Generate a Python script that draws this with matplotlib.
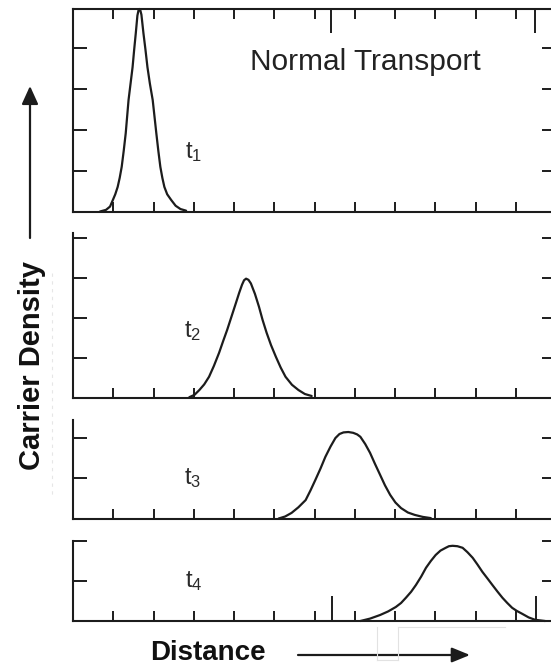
import matplotlib
matplotlib.use("Agg")
import matplotlib.pyplot as plt
from matplotlib.patches import FancyArrowPatch
from matplotlib.lines import Line2D

plt.rcParams['font.family'] = ['Liberation Sans', 'DejaVu Sans']
plt.rcParams['mathtext.default'] = 'regular'

# ---------------- data ----------------
title_text = "Normal Transport"
xlabel_text = "Distance"
ylabel_text = "Carrier Density"
time_labels = ["t_1", "t_2", "t_3", "t_4"]

x_t1 = [0.67, 0.82, 0.92, 0.99, 1.05, 1.11, 1.16, 1.21, 1.26, 1.31, 1.38, 1.43,
        1.48, 1.52, 1.56, 1.60, 1.63, 1.65, 1.67, 1.70, 1.75, 1.80, 1.85, 1.91,
        1.98, 2.07, 2.12, 2.17, 2.22, 2.27, 2.34, 2.44, 2.55, 2.67, 2.81]
y_t1 = [0.00, 0.04, 0.12, 0.28, 0.42, 0.60, 0.82, 1.09, 1.48, 1.91, 2.72, 3.12,
        3.52, 3.95, 4.35, 4.78, 4.92, 4.94, 4.92, 4.80, 4.35, 3.95, 3.52, 3.12,
        2.72, 1.91, 1.48, 1.09, 0.82, 0.60, 0.42, 0.28, 0.14, 0.06, 0.02]

x_t2 = [2.89, 3.02, 3.14, 3.26, 3.38, 3.50, 3.63, 3.73, 3.83, 3.94, 4.05, 4.13,
        4.20, 4.25, 4.30, 4.36, 4.42, 4.52, 4.62, 4.71, 4.81, 4.92, 5.04, 5.16,
        5.28, 5.44, 5.60, 5.76, 5.93]
y_t2 = [0.02, 0.08, 0.20, 0.34, 0.53, 0.80, 1.13, 1.42, 1.70, 2.04, 2.38, 2.63,
        2.83, 2.94, 2.98, 2.95, 2.86, 2.60, 2.28, 1.95, 1.63, 1.32, 1.03, 0.76,
        0.53, 0.33, 0.20, 0.10, 0.05]

x_t3 = [5.11, 5.27, 5.43, 5.60, 5.78, 5.90, 6.02, 6.15, 6.27, 6.40, 6.52, 6.62,
        6.72, 6.84, 6.96, 7.06, 7.14, 7.26, 7.38, 7.50, 7.63, 7.75, 7.88, 8.01,
        8.15, 8.32, 8.49, 8.69, 8.89]
y_t3 = [0.00, 0.05, 0.14, 0.28, 0.46, 0.70, 0.96, 1.25, 1.54, 1.80, 2.01, 2.11,
        2.15, 2.16, 2.14, 2.10, 2.04, 1.86, 1.64, 1.37, 1.09, 0.83, 0.59, 0.40,
        0.26, 0.15, 0.09, 0.04, 0.01]

x_t4 = [7.14, 7.38, 7.63, 7.83, 8.02, 8.15, 8.27, 8.40, 8.52, 8.65, 8.77, 8.89,
        9.01, 9.13, 9.26, 9.34, 9.43, 9.55, 9.68, 9.80, 9.93, 10.05, 10.17, 10.30,
        10.42, 10.55, 10.67, 10.79, 10.91, 11.03, 11.16, 11.32, 11.48, 11.73]
y_t4 = [0.00, 0.06, 0.15, 0.24, 0.35, 0.45, 0.58, 0.73, 0.90, 1.11, 1.33, 1.50,
        1.65, 1.76, 1.83, 1.87, 1.88, 1.87, 1.83, 1.72, 1.58, 1.41, 1.23, 1.06,
        0.90, 0.73, 0.58, 0.45, 0.33, 0.25, 0.18, 0.09, 0.03, 0.00]

x_ticks = [1, 2, 3, 4, 5, 6, 7, 8, 9, 10, 11, 12]
long_ticks_top = [6.40, 11.48]
long_ticks_bottom = [6.44, 11.50]
y_ticks_1 = [1, 2, 3, 4]
y_ticks_2 = [1, 2, 3, 4]
y_ticks_3 = [1, 2]
y_ticks_4 = [1, 2]
y_top = [4.94, 4.12, 2.46, 2.0]

# ---------------- layout ----------------
W, H = 551, 666
fig = plt.figure(figsize=(W / 100, H / 100), dpi=100)
ink = '#1c1c1c'

left_px, right_px = 73, 556
panels_px = [(9, 211.5), (233, 398), (420, 518.5), (541, 621)]

series = [(x_t1, y_t1), (x_t2, y_t2), (x_t3, y_t3), (x_t4, y_t4)]
yticks_all = [y_ticks_1, y_ticks_2, y_ticks_3, y_ticks_4]
for i, (top, bot) in enumerate(panels_px):
    ax = fig.add_axes([left_px / W, 1 - bot / H, (right_px - left_px) / W, (bot - top) / H])
    ax.set_xlim(0, (right_px - left_px) / 40.5)
    ax.set_ylim(0, y_top[i])
    xs, ys = series[i]
    ax.plot(xs, ys, color=ink, lw=1.6, solid_joinstyle='round', solid_capstyle='round',
            clip_on=False)
    ax.set_xticks(x_ticks)
    ax.set_yticks(yticks_all[i])
    ax.set_xticklabels([])
    ax.set_yticklabels([])
    for s in ax.spines.values():
        s.set_color(ink)
        s.set_linewidth(1.5)
    if i > 0:
        ax.spines['top'].set_visible(False)
    ax.tick_params(axis='x', which='major', direction='in', length=7.5, width=1.4,
                   color=ink, top=(i == 0), bottom=True)
    ax.tick_params(axis='y', which='major', direction='in', length=10, width=1.4,
                   color=ink, left=True, right=True)
    if i == 0:
        ax.set_xticks(long_ticks_top, minor=True)
        ax.tick_params(axis='x', which='minor', direction='in', length=17, width=1.4,
                       color=ink, top=True, bottom=False)
    if i == 3:
        ax.set_xticks(long_ticks_bottom, minor=True)
        ax.tick_params(axis='x', which='minor', direction='in', length=18, width=1.4,
                       color=ink, top=False, bottom=True)
    ax.patch.set_alpha(0)

# time labels
t_pos = [(185, 158), (184, 337), (184, 484), (185, 587)]
for lab, (px, py) in zip(time_labels, t_pos):
    fig.text(px / W, 1 - py / H, "$" + lab + "$", fontsize=17, color='#2a2a2a',
             ha='left', va='baseline')

# title
fig.text(250 / W, 1 - 70.5 / H, title_text, fontsize=21.5, color='#222222',
         ha='left', va='baseline')

# axis labels
fig.text(32 / W, 1 - 365 / H, ylabel_text, fontsize=21, fontweight='bold', color='#111111',
         rotation=90, ha='center', va='center')
fig.text(150 / W, 1 - 659.5 / H, xlabel_text, fontsize=20, fontweight='bold', color='#111111',
         ha='left', va='baseline')

# arrows
arr_up = FancyArrowPatch((30 / W, 1 - 238 / H), (30 / W, 1 - 86 / H),
                         transform=fig.transFigure, arrowstyle='-|>,head_length=1.1,head_width=0.5',
                         mutation_scale=10, lw=1.6, color=ink, shrinkA=0, shrinkB=0)
arr_right = FancyArrowPatch((298 / W, 1 - 655 / H), (470 / W, 1 - 655 / H),
                            transform=fig.transFigure, arrowstyle='-|>,head_length=1.1,head_width=0.45',
                            mutation_scale=10, lw=1.6, color=ink, shrinkA=0, shrinkB=0)
fig.patches.extend([arr_up, arr_right])

# faint scan artefacts
faint = '#e2e2e2'
for xs_, ys_ in [([377, 377], [627, 660]), ([398, 398], [627, 660]),
                 ([398, 505], [627, 627]), ([377, 398], [660, 660])]:
    fig.lines.append(Line2D([x / W for x in xs_], [1 - y / H for y in ys_],
                            transform=fig.transFigure, color=faint, lw=0.8))
fig.lines.append(Line2D([52 / W, 52 / W], [1 - 273 / H, 1 - 497 / H],
                        transform=fig.transFigure, color='#e6e6e6', lw=0.8,
                        linestyle=(0, (3, 4))))

fig.savefig("out.png", dpi=100)
